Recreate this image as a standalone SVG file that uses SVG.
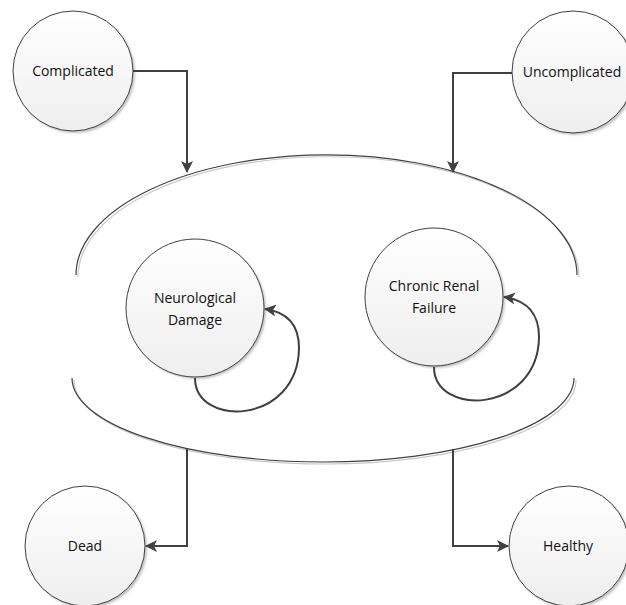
<svg xmlns="http://www.w3.org/2000/svg" width="626" height="605" viewBox="0 0 626 605">
<defs>
<linearGradient id="g" x1="0" y1="0" x2="0" y2="1">
<stop offset="0" stop-color="#ffffff"/>
<stop offset="1" stop-color="#eeeeee"/>
</linearGradient>
<filter id="sh" x="-20%" y="-20%" width="140%" height="140%">
<feGaussianBlur stdDeviation="1"/>
</filter>
<marker id="ah" viewBox="0 0 12 12" refX="11" refY="6" markerWidth="12" markerHeight="12" markerUnits="userSpaceOnUse" orient="auto">
<path d="M0,0 L12,6 L0,12 L3,6 Z" fill="#404040"/>
</marker>
</defs>
<style>
.node .shadow{fill:#c4c4c4;filter:url(#sh)}
.node .body{fill:url(#g);stroke:#404040;stroke-width:1}
.node text{font-family:"Open Sans","Liberation Sans",sans-serif;font-size:14px;fill:#111;text-anchor:middle}
.arc{fill:none;stroke:#404040;stroke-width:1.2}
.arcsh{fill:none;stroke:#c8c8c8;stroke-width:1.2}
.conn{fill:none;stroke:#404040;stroke-width:2}
</style>

<g id="container">
<path class="arcsh" d="M78,277 A250,120 0 0 1 579,277"/>
<path class="arc" d="M76,275 A250,120 0 0 1 577,275"/>
<path class="arcsh" d="M74,380 A251,84 0 0 0 576,380"/>
<path class="arc" d="M72,378 A251,84 0 0 0 574,378"/>
</g>

<g id="complicated" class="node">
<circle class="shadow" cx="75" cy="73" r="60"/>
<circle class="body" cx="73" cy="71" r="60"/>
<text x="73" y="76">Complicated</text>
</g>

<g id="uncomplicated" class="node">
<circle class="shadow" cx="575" cy="74" r="61"/>
<circle class="body" cx="573" cy="72" r="61"/>
<text x="572" y="77">Uncomplicated</text>
</g>

<g id="neurological" class="node">
<circle class="shadow" cx="197" cy="310" r="69"/>
<circle class="body" cx="195" cy="308" r="69"/>
<text x="195" y="303">Neurological</text>
<text x="195" y="325">Damage</text>
</g>

<g id="renal" class="node">
<circle class="shadow" cx="436" cy="299" r="69"/>
<circle class="body" cx="434" cy="297" r="69"/>
<text x="434" y="291">Chronic Renal</text>
<text x="434" y="313">Failure</text>
</g>

<g id="dead" class="node">
<circle class="shadow" cx="87" cy="548" r="60"/>
<circle class="body" cx="85" cy="546" r="60"/>
<text x="85" y="551">Dead</text>
</g>

<g id="healthy" class="node">
<circle class="shadow" cx="571" cy="548" r="60"/>
<circle class="body" cx="569" cy="546" r="60"/>
<text x="568" y="551">Healthy</text>
</g>

<g id="connectors">
<path class="conn" d="M133,71 H187 V172" marker-end="url(#ah)"/>
<path class="conn" d="M512,73 H453 V172" marker-end="url(#ah)"/>
<path class="conn" d="M187,448 V546 H146" marker-end="url(#ah)"/>
<path class="conn" d="M453,449 V546 H508" marker-end="url(#ah)"/>
<path class="conn" d="M195,378 C195,428 298,425 299,348 C299,325 287,312 265,309" marker-end="url(#ah)"/>
<path class="conn" d="M434,367 C434,417 538,414 539,337 C539,314 527,300 504,297" marker-end="url(#ah)"/>
</g>
</svg>
